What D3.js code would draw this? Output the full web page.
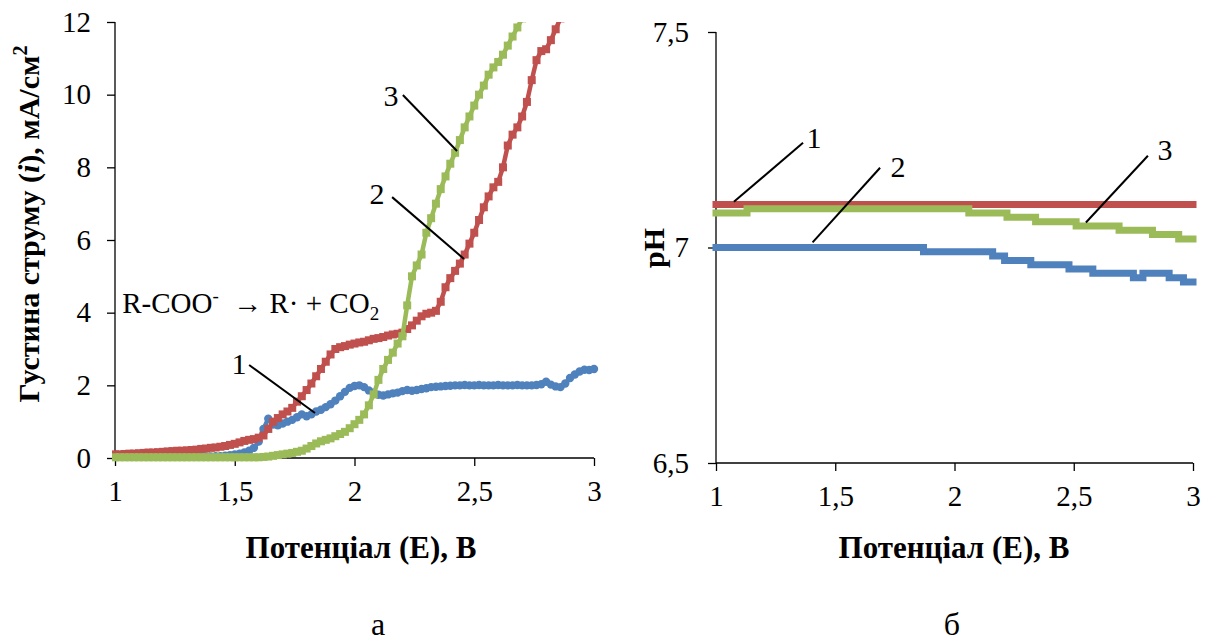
<!DOCTYPE html>
<html>
<head>
<meta charset="utf-8">
<script src="https://cdn.jsdelivr.net/npm/d3@7"></script>
<style>
  html, body { margin: 0; padding: 0; background: #fff; }
  svg { display: block; }
  svg text { font-family: "Liberation Serif", "DejaVu Serif", serif; }
  .axis path, .axis line { stroke: #000; stroke-width: 1.3; }
</style>
</head>
<body>
<svg id="chart" width="1209" height="642"></svg>
<script>
// Potential grid (V) for the current-density curves
const potential = [
  1.00,1.02,1.04,1.06,1.08,1.10,1.12,1.14,1.16,1.18,
  1.20,1.22,1.24,1.26,1.28,1.30,1.32,1.34,1.36,1.38,
  1.40,1.42,1.44,1.46,1.48,1.50,1.52,1.54,1.56,1.58,
  1.60,1.62,1.64,1.66,1.68,1.70,1.72,1.74,1.76,1.78,
  1.80,1.82,1.84,1.86,1.88,1.90,1.92,1.94,1.96,1.98,
  2.00,2.02,2.04,2.06,2.08,2.10,2.12,2.14,2.16,2.18,
  2.20,2.22,2.24,2.26,2.28,2.30,2.32,2.34,2.36,2.38,
  2.40,2.42,2.44,2.46,2.48,2.50,2.52,2.54,2.56,2.58,
  2.60,2.62,2.64,2.66,2.68,2.70,2.72,2.74,2.76,2.78,
  2.80,2.82,2.84,2.86,2.88,2.90,2.92,2.94,2.96,2.98,
  3.00
];

// Current density, mA/cm² (curve 1)
const current1 = [
  0.03,0.03,0.03,0.03,0.03,0.03,0.03,0.03,0.03,0.03,
  0.03,0.03,0.03,0.03,0.03,0.03,0.03,0.03,0.04,0.04,
  0.04,0.05,0.05,0.06,0.08,0.10,0.12,0.15,0.20,0.28,
  0.45,0.80,1.08,0.92,0.90,0.95,1.00,1.05,1.12,1.20,
  1.15,1.20,1.28,1.33,1.40,1.48,1.58,1.70,1.82,1.93,
  1.98,2.00,1.95,1.86,1.80,1.74,1.72,1.75,1.78,1.80,
  1.84,1.87,1.85,1.87,1.90,1.92,1.95,1.96,1.97,1.98,
  1.99,2.00,2.00,2.01,2.00,2.00,2.01,2.00,2.00,2.00,
  2.01,2.00,2.00,2.00,2.01,2.00,2.00,2.00,2.01,2.03,
  2.10,2.02,1.97,1.95,2.05,2.20,2.30,2.38,2.43,2.42,
  2.45
];

// Current density, mA/cm² (curve 2)
const current2 = [
  0.10,0.10,0.11,0.12,0.12,0.13,0.14,0.15,0.15,0.16,
  0.17,0.18,0.19,0.20,0.20,0.21,0.22,0.23,0.25,0.26,
  0.28,0.29,0.31,0.33,0.36,0.39,0.43,0.47,0.50,0.52,
  0.56,0.62,0.80,1.00,1.10,1.20,1.28,1.38,1.55,1.70,
  1.87,2.05,2.25,2.45,2.65,2.85,3.00,3.05,3.08,3.12,
  3.15,3.18,3.20,3.24,3.28,3.30,3.33,3.37,3.40,3.42,
  3.45,3.55,3.65,3.78,3.90,3.97,4.00,4.05,4.30,4.70,
  4.95,5.15,5.35,5.60,5.90,6.20,6.55,6.90,7.20,7.45,
  7.60,8.00,8.60,8.90,9.10,9.40,9.80,10.40,10.95,11.20,
  11.25,11.50,11.80,12.10
];

// Current density, mA/cm² (curve 3)
const current3 = [
  0.02,0.02,0.02,0.02,0.02,0.02,0.02,0.02,0.02,0.02,
  0.02,0.02,0.02,0.02,0.02,0.02,0.02,0.02,0.02,0.02,
  0.02,0.02,0.02,0.02,0.02,0.02,0.02,0.02,0.02,0.02,
  0.02,0.03,0.04,0.06,0.08,0.10,0.12,0.14,0.17,0.20,
  0.26,0.33,0.40,0.46,0.50,0.54,0.60,0.66,0.72,0.82,
  0.93,1.05,1.20,1.45,1.75,2.15,2.45,2.70,2.90,3.15,
  3.35,4.20,5.00,5.30,5.60,6.20,6.60,7.00,7.40,7.75,
  8.10,8.40,8.75,9.10,9.40,9.70,10.00,10.25,10.55,10.75,
  10.90,11.10,11.35,11.60,11.85,12.10
];

// pH against potential: [E, pH] points where the reading changes
const ph1 = [[1.00,7.10],[3.00,7.10]];
const ph2 = [[1.00,7.00],[1.87,6.99],[2.16,6.98],[2.21,6.97],[2.32,6.96],[2.48,6.95],
             [2.58,6.94],[2.75,6.93],[2.79,6.94],[2.90,6.93],[2.96,6.92],[3.00,6.92]];
const ph3 = [[1.00,7.08],[1.13,7.09],[2.06,7.08],[2.22,7.07],[2.34,7.06],[2.51,7.05],
             [2.69,7.04],[2.83,7.03],[2.94,7.02],[3.00,7.02]];

// Tick values and labels
const xTicks = [1, 1.5, 2, 2.5, 3];
const xTickLabels = ["1", "1,5", "2", "2,5", "3"];
const iTicks = [0, 2, 4, 6, 8, 10, 12];
const phTicks = [6.5, 7, 7.5];
const phTickLabels = ["6,5", "7", "7,5"];

const colors = { blue: "#4F81BD", red: "#C0504D", green: "#9BBB59" };
const SERIF = "Liberation Serif";

const svg = d3.select("#chart");
const defs = svg.append("defs");

function styleAxis(g) {
  g.attr("font-family", SERIF).attr("font-size", 29);
  g.selectAll("text").attr("font-family", SERIF).attr("font-size", 29).attr("fill", "#000");
}

function addText(parent, x, y, str, size, opts = {}) {
  return parent.append("text").attr("x", x).attr("y", y)
    .attr("dy", opts.dy || "0.35em")
    .attr("text-anchor", opts.anchor || "middle")
    .attr("font-family", SERIF)
    .attr("font-weight", opts.bold ? "bold" : "normal")
    .attr("font-size", size).text(str);
}

// ---------- Panel а: current density ----------
const xA = d3.scaleLinear().domain([1, 3]).range([115, 594]);
const yA = d3.scaleLinear().domain([0, 12]).range([458, 22]);

defs.append("clipPath").attr("id", "clipA").append("rect")
  .attr("x", 112).attr("y", 22).attr("width", 490).attr("height", 445);

const gA = svg.append("g");

gA.append("g").attr("class", "axis")
  .attr("transform", `translate(0,${yA(0)})`)
  .call(d3.axisBottom(xA).tickValues(xTicks).tickSize(8).tickPadding(14)
        .tickFormat((d, i) => xTickLabels[i]))
  .call(g => g.select(".domain").attr("d", `M${xA(1)},0H${xA(3)}`))
  .call(styleAxis);

gA.append("g").attr("class", "axis")
  .attr("transform", `translate(${xA(1)},0)`)
  .call(d3.axisLeft(yA).tickValues(iTicks).tickSize(8).tickPadding(16)
        .tickFormat(d => String(d)))
  .call(g => g.select(".domain").attr("d", `M0,${yA(12)}V${yA(0)}`))
  .call(styleAxis);

const plotA = gA.append("g").attr("clip-path", "url(#clipA)");

const seriesA = [
  { values: current1, color: colors.blue, marker: "circle" },
  { values: current2, color: colors.red, marker: "square" },
  { values: current3, color: colors.green, marker: "square" }
];

const lineA = d3.line().x(d => xA(d[0])).y(d => yA(d[1]));

seriesA.forEach(s => {
  const pts = s.values.map((v, i) => [potential[i], v]);
  plotA.append("path").datum(pts)
    .attr("fill", "none").attr("stroke", s.color)
    .attr("stroke-width", 4.5).attr("stroke-linejoin", "round")
    .attr("d", lineA);
  if (s.marker === "circle") {
    plotA.append("g").selectAll("circle").data(pts).join("circle")
      .attr("cx", d => xA(d[0])).attr("cy", d => yA(d[1])).attr("r", 4.2)
      .attr("fill", s.color);
  } else {
    plotA.append("g").selectAll("rect").data(pts).join("rect")
      .attr("x", d => xA(d[0]) - 4).attr("y", d => yA(d[1]) - 4)
      .attr("width", 8).attr("height", 8)
      .attr("fill", s.color);
  }
});

// curve labels with leader lines, panel а
const labelsA = [
  { text: "1", at: [1.518, 2.61], from: [1.56, 2.56], to: [1.835, 1.24] },
  { text: "2", at: [2.094, 7.29], from: [2.157, 7.18], to: [2.457, 5.48] },
  { text: "3", at: [2.152, 9.99], from: [2.202, 9.99], to: [2.428, 8.45] }
];
labelsA.forEach(l => {
  gA.append("line")
    .attr("x1", xA(l.from[0])).attr("y1", yA(l.from[1]))
    .attr("x2", xA(l.to[0])).attr("y2", yA(l.to[1]))
    .attr("stroke", "#000").attr("stroke-width", 2);
  addText(gA, xA(l.at[0]), yA(l.at[1]), l.text, 30);
});

// reaction scheme
const reaction = gA.append("text")
  .attr("x", xA(1.03)).attr("y", yA(4.0))
  .attr("font-family", SERIF).attr("font-size", 29);
reaction.append("tspan").text("R-COO");
reaction.append("tspan").attr("dy", -11).attr("font-size", 19).text("-");
reaction.append("tspan").attr("dy", 11).text("\u00A0\u00A0\u2192 R\u00B7 + CO");
reaction.append("tspan").attr("dy", 7).attr("font-size", 19).text("2");

// axis titles, panel а
addText(gA, 361, 547, "Потенціал (Е), В", 31, { bold: true });

const yTitleA = gA.append("text")
  .attr("transform", "translate(39,224) rotate(-90)")
  .attr("text-anchor", "middle").attr("font-family", SERIF)
  .attr("font-weight", "bold").attr("font-size", 30);
yTitleA.append("tspan").text("Густина струму (");
yTitleA.append("tspan").attr("font-style", "italic").text("i");
yTitleA.append("tspan").text("), мА/см");
yTitleA.append("tspan").attr("dy", -12).attr("font-size", 20).text("2");

addText(gA, 378, 635, "а", 32, { dy: "0" });

// ---------- Panel б: pH ----------
const xB = d3.scaleLinear().domain([1, 3]).range([716, 1193]);
const yB = d3.scaleLinear().domain([6.5, 7.5]).range([463, 32]);

const gB = svg.append("g");

gB.append("g").attr("class", "axis")
  .attr("transform", `translate(0,${yB(6.5)})`)
  .call(d3.axisBottom(xB).tickValues(xTicks).tickSize(8).tickPadding(14)
        .tickFormat((d, i) => xTickLabels[i]))
  .call(g => g.select(".domain").attr("d", `M${xB(1)},0H${xB(3)}`))
  .call(styleAxis);

gB.append("g").attr("class", "axis")
  .attr("transform", `translate(${xB(1)},0)`)
  .call(d3.axisLeft(yB).tickValues(phTicks).tickSize(8).tickPadding(19)
        .tickFormat((d, i) => phTickLabels[i]))
  .call(g => g.select(".domain").attr("d", `M0,${yB(7.5)}V${yB(6.5)}`))
  .call(styleAxis);

const lineB = d3.line().x(d => xB(d[0])).y(d => yB(d[1])).curve(d3.curveStepAfter);

[
  { values: ph1, color: colors.red },
  { values: ph3, color: colors.green },
  { values: ph2, color: colors.blue }
].forEach(s => {
  gB.append("path").datum(s.values)
    .attr("fill", "none").attr("stroke", s.color)
    .attr("stroke-width", 7).attr("stroke-linecap", "square")
    .attr("stroke-linejoin", "miter")
    .attr("d", lineB);
});

const labelsB = [
  { text: "1", at: [1.411, 7.255], from: [1.365, 7.243], to: [1.075, 7.106] },
  { text: "2", at: [1.763, 7.1875], from: [1.688, 7.185], to: [1.405, 7.012] },
  { text: "3", at: [2.883, 7.227], from: [2.811, 7.213], to: [2.551, 7.058] }
];
labelsB.forEach(l => {
  gB.append("line")
    .attr("x1", xB(l.from[0])).attr("y1", yB(l.from[1]))
    .attr("x2", xB(l.to[0])).attr("y2", yB(l.to[1]))
    .attr("stroke", "#000").attr("stroke-width", 2);
  addText(gB, xB(l.at[0]), yB(l.at[1]), l.text, 30);
});

addText(gB, 954, 547, "Потенціал (Е), В", 31, { bold: true });

gB.append("text").attr("transform", "translate(664,248) rotate(-90)")
  .attr("text-anchor", "middle").attr("font-family", SERIF)
  .attr("font-weight", "bold").attr("font-size", 30)
  .text("pH");

addText(gB, 952, 635, "б", 32, { dy: "0" });
</script>
</body>
</html>
